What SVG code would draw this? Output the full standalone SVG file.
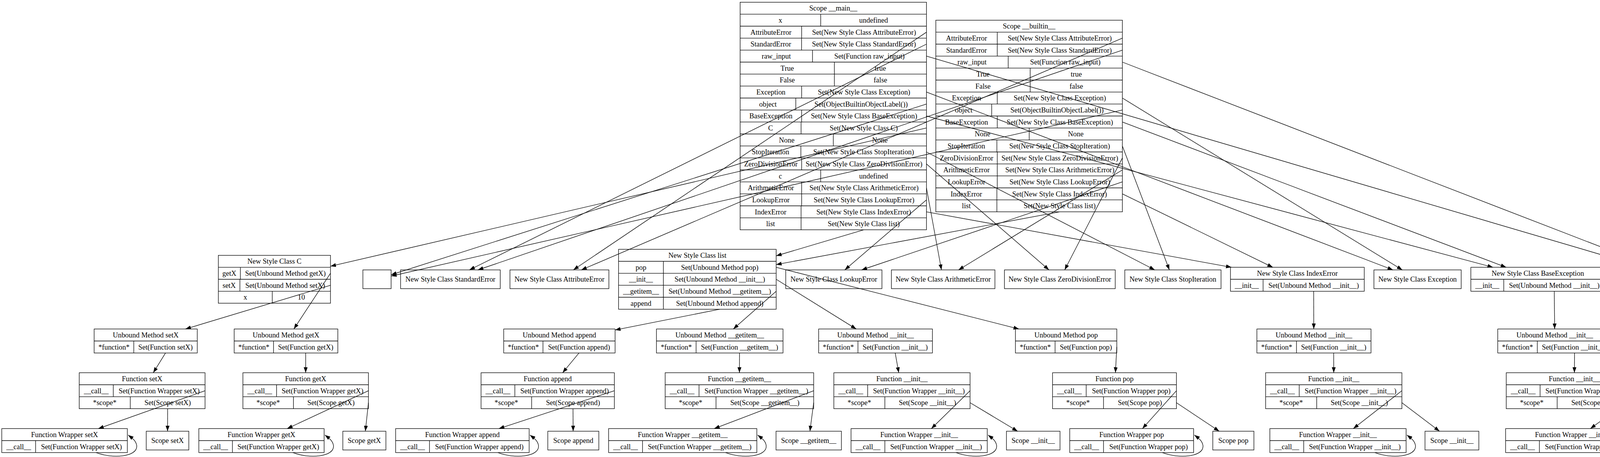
<svg xmlns="http://www.w3.org/2000/svg" width="4728" height="1170" viewBox="0 0 4728 1170">
<style>
.s{fill:none;stroke:#000;stroke-width:1.33}
text{font-family:"Liberation Serif","Times New Roman",serif;font-size:18.4px;text-anchor:middle;fill:#000}
.e line,.e path{fill:none;stroke:#000;stroke-width:1.33;marker-end:url(#a)}
</style>
<defs>
<marker id="a" markerUnits="userSpaceOnUse" markerWidth="14" markerHeight="10" viewBox="0 0 13.3 9.4" refX="13.3" refY="4.7" orient="auto"><path d="M0,0L13.3,4.7L0,9.4z" fill="#000"/></marker>
</defs>
<rect width="4728" height="1170" fill="#fff"/>

<g id="scope_main">
<rect class="s" x="1894.7" y="5.67" width="477" height="582.67"/>
<path class="s" d="M1894.7,36.33H2371.7M1894.7,67H2371.7M1894.7,97.67H2371.7M1894.7,128.33H2371.7M1894.7,159H2371.7M1894.7,189.67H2371.7M1894.7,220.33H2371.7M1894.7,251H2371.7M1894.7,281.67H2371.7M1894.7,312.33H2371.7M1894.7,343H2371.7M1894.7,373.67H2371.7M1894.7,404.33H2371.7M1894.7,435H2371.7M1894.7,465.67H2371.7M1894.7,496.33H2371.7M1894.7,527H2371.7M1894.7,557.67H2371.7
M2101,36.33V67M2052.3,67V97.67M2052,97.67V128.33M2080,128.33V159M2136,159V189.67M2136,189.67V220.33M2052.3,220.33V251M2037.3,251V281.67M2052.3,281.67V312.33M2050.7,312.33V343M2133.3,343V373.67M2050.3,373.67V404.33M2052.3,404.33V435M2101,435V465.67M2052.3,465.67V496.33M2052.3,496.33V527M2050.7,527V557.67M2050.7,557.67V588.33"/>
<text x="2133.2" y="27.3">Scope __main__</text>
<text x="1997.85" y="58">x</text><text x="2236.35" y="58">undefined</text>
<text x="1973.5" y="88.7">AttributeError</text><text x="2212" y="88.7">Set(New Style Class AttributeError)</text>
<text x="1973.35" y="119.3">StandardError</text><text x="2211.85" y="119.3">Set(New Style Class StandardError)</text>
<text x="1987.35" y="150">raw_input</text><text x="2225.85" y="150">Set(Function raw_input)</text>
<text x="2015.35" y="180.7">True</text><text x="2253.85" y="180.7">true</text>
<text x="2015.35" y="211.3">False</text><text x="2253.85" y="211.3">false</text>
<text x="1973.5" y="242">Exception</text><text x="2212" y="242">Set(New Style Class Exception)</text>
<text x="1966" y="272.7">object</text><text x="2204.5" y="272.7">Set(ObjectBuiltinObjectLabel())</text>
<text x="1973.5" y="303.3">BaseException</text><text x="2212" y="303.3">Set(New Style Class BaseException)</text>
<text x="1972.7" y="334">C</text><text x="2211.2" y="334">Set(New Style Class C)</text>
<text x="2014" y="364.7">None</text><text x="2252.5" y="364.7">None</text>
<text x="1972.5" y="395.3">StopIteration</text><text x="2211" y="395.3">Set(New Style Class StopIteration)</text>
<text x="1973.5" y="426">ZeroDivisionError</text><text x="2212" y="426">Set(New Style Class ZeroDivisionError)</text>
<text x="1997.85" y="456.7">c</text><text x="2236.35" y="456.7">undefined</text>
<text x="1973.5" y="487.3">ArithmeticError</text><text x="2212" y="487.3">Set(New Style Class ArithmeticError)</text>
<text x="1973.5" y="518">LookupError</text><text x="2212" y="518">Set(New Style Class LookupError)</text>
<text x="1972.7" y="548.7">IndexError</text><text x="2211.2" y="548.7">Set(New Style Class IndexError)</text>
<text x="1972.7" y="579.3">list</text><text x="2211.2" y="579.3">Set(New Style Class list)</text>
</g>

<g id="scope_builtin">
<rect class="s" x="2395.7" y="51.67" width="477.6" height="490.67"/>
<path class="s" d="M2395.7,82.33H2873.3M2395.7,113H2873.3M2395.7,143.67H2873.3M2395.7,174.33H2873.3M2395.7,205H2873.3M2395.7,235.67H2873.3M2395.7,266.33H2873.3M2395.7,297H2873.3M2395.7,327.67H2873.3M2395.7,358.33H2873.3M2395.7,389H2873.3M2395.7,419.67H2873.3M2395.7,450.33H2873.3M2395.7,481H2873.3M2395.7,511.67H2873.3
M2553,82.33V113M2553,113V143.67M2581,143.67V174.33M2637.3,174.33V205M2637.3,205V235.67M2553,235.67V266.33M2538.7,266.33V297M2553,297V327.67M2634.7,327.67V358.33M2552,358.33V389M2553,389V419.67M2553,419.67V450.33M2553,450.33V481M2552,481V511.67M2552,511.67V542.33"/>
<text x="2634.5" y="73.3">Scope __builtin__</text>
<text x="2474.35" y="104">AttributeError</text><text x="2713.15" y="104">Set(New Style Class AttributeError)</text>
<text x="2474.35" y="134.6">StandardError</text><text x="2713.15" y="134.6">Set(New Style Class StandardError)</text>
<text x="2488.35" y="165.3">raw_input</text><text x="2727.15" y="165.3">Set(Function raw_input)</text>
<text x="2516.5" y="196">True</text><text x="2755.3" y="196">true</text>
<text x="2516.5" y="226.6">False</text><text x="2755.3" y="226.6">false</text>
<text x="2474.35" y="257.3">Exception</text><text x="2713.15" y="257.3">Set(New Style Class Exception)</text>
<text x="2467.2" y="288">object</text><text x="2706" y="288">Set(ObjectBuiltinObjectLabel())</text>
<text x="2474.35" y="318.6">BaseException</text><text x="2713.15" y="318.6">Set(New Style Class BaseException)</text>
<text x="2515.2" y="349.3">None</text><text x="2754" y="349.3">None</text>
<text x="2473.85" y="380">StopIteration</text><text x="2712.65" y="380">Set(New Style Class StopIteration)</text>
<text x="2474.35" y="410.6">ZeroDivisionError</text><text x="2713.15" y="410.6">Set(New Style Class ZeroDivisionError)</text>
<text x="2474.35" y="441.3">ArithmeticError</text><text x="2713.15" y="441.3">Set(New Style Class ArithmeticError)</text>
<text x="2474.35" y="472">LookupError</text><text x="2713.15" y="472">Set(New Style Class LookupError)</text>
<text x="2473.85" y="502.6">IndexError</text><text x="2712.65" y="502.6">Set(New Style Class IndexError)</text>
<text x="2473.85" y="533.3">list</text><text x="2712.65" y="533.3">Set(New Style Class list)</text>
</g>

<g id="nsc_C">
<rect class="s" x="559" y="653.67" width="287" height="122.67"/>
<path class="s" d="M559,684.33H846M559,715H846M559,745.67H846M615.4,684.33V715M614.2,715V745.67M697,745.67V776.33"/>
<text x="702.5" y="675.3">New Style Class C</text>
<text x="587.2" y="706">getX</text><text x="730.7" y="706">Set(Unbound Method getX)</text>
<text x="586.6" y="736.6">setX</text><text x="730.1" y="736.6">Set(Unbound Method setX)</text>
<text x="628" y="767.3">x</text><text x="771.5" y="767.3">10</text>
</g>
<g id="object_label"><rect class="s" x="929" y="691" width="72.3" height="48"/></g>
<g id="nsc_StandardError"><rect class="s" x="1025.5" y="691" width="255.1" height="48"/><text x="1153.05" y="721.3">New Style Class StandardError</text></g>
<g id="nsc_AttributeError"><rect class="s" x="1305.5" y="691" width="253.2" height="48"/><text x="1432.1" y="721.3">New Style Class AttributeError</text></g>
<g id="nsc_list">
<rect class="s" x="1583.5" y="638.33" width="403.5" height="153.33"/>
<path class="s" d="M1583.5,669H1987M1583.5,699.67H1987M1583.5,730.33H1987M1583.5,761H1987M1698.3,669V791.67"/>
<text x="1785.25" y="660">New Style Class list</text>
<text x="1640.9" y="690.6">pop</text><text x="1842.65" y="690.6">Set(Unbound Method pop)</text>
<text x="1640.9" y="721.3">__init__</text><text x="1842.65" y="721.3">Set(Unbound Method __init__)</text>
<text x="1640.9" y="752">__getitem__</text><text x="1842.65" y="752">Set(Unbound Method __getitem__)</text>
<text x="1640.9" y="782.6">append</text><text x="1842.65" y="782.6">Set(Unbound Method append)</text>
</g>
<g id="nsc_LookupError"><rect class="s" x="2011.5" y="691" width="246.2" height="48"/><text x="2134.6" y="721.3">New Style Class LookupError</text></g>
<g id="nsc_ArithmeticError"><rect class="s" x="2282" y="691" width="265" height="48"/><text x="2414.5" y="721.3">New Style Class ArithmeticError</text></g>
<g id="nsc_ZeroDivisionError"><rect class="s" x="2571.4" y="691" width="283.6" height="48"/><text x="2713.2" y="721.3">New Style Class ZeroDivisionError</text></g>
<g id="nsc_StopIteration"><rect class="s" x="2879.5" y="691" width="246.3" height="48"/><text x="3002.65" y="721.3">New Style Class StopIteration</text></g>
<g id="nsc_IndexError">
<rect class="s" x="3150" y="684.33" width="342.5" height="61.33"/>
<path class="s" d="M3150,715H3492.5M3233.5,715V745.67"/>
<text x="3321.25" y="706">New Style Class IndexError</text>
<text x="3191.75" y="736.6">__init__</text><text x="3363" y="736.6">Set(Unbound Method __init__)</text>
</g>
<g id="nsc_Exception"><rect class="s" x="3517.3" y="691" width="223.3" height="48"/><text x="3628.95" y="721.3">New Style Class Exception</text></g>
<g id="nsc_BaseException">
<rect class="s" x="3765.4" y="684.33" width="342.9" height="61.33"/>
<path class="s" d="M3765.4,715H4108.3M3849.6,715V745.67"/>
<text x="3936.85" y="706">New Style Class BaseException</text>
<text x="3807.5" y="736.6">__init__</text><text x="3978.95" y="736.6">Set(Unbound Method __init__)</text>
</g>
<g id="func_raw_input">
<rect class="s" x="4132.5" y="669" width="361" height="92"/>
<path class="s" d="M4132.5,699.67H4493.5M4132.5,730.33H4493.5M4219,699.67V730.33M4262.7,730.33V761"/>
<text x="4313" y="690.6">Function raw_input</text>
<text x="4175.75" y="721.3">__call__</text><text x="4356.25" y="721.3">Set(Function Wrapper raw_input)</text>
<text x="4197.6" y="752">*scope*</text><text x="4378.1" y="752">Set(Scope raw_input)</text>
</g>

<g id="um_setX"><rect class="s" x="241" y="842.33" width="264" height="61.33"/><path class="s" d="M241,873H505M342.5,873V903.67"/><text x="373" y="864">Unbound Method setX</text><text x="291.75" y="894.6">*function*</text><text x="423.75" y="894.6">Set(Function setX)</text></g>
<g id="um_getX"><rect class="s" x="599.5" y="842.33" width="265.3" height="61.33"/><path class="s" d="M599.5,873H864.8M700.3,873V903.67"/><text x="732.15" y="864">Unbound Method getX</text><text x="649.9" y="894.6">*function*</text><text x="782.55" y="894.6">Set(Function getX)</text></g>
<g id="um_append"><rect class="s" x="1289.5" y="842.33" width="285.1" height="61.33"/><path class="s" d="M1289.5,873H1574.6M1390,873V903.67"/><text x="1432.05" y="864">Unbound Method append</text><text x="1339.75" y="894.6">*function*</text><text x="1482.3" y="894.6">Set(Function append)</text></g>
<g id="um_getitem"><rect class="s" x="1680.5" y="842.33" width="324" height="61.33"/><path class="s" d="M1680.5,873H2004.5M1782,873V903.67"/><text x="1842.5" y="864">Unbound Method __getitem__</text><text x="1731.25" y="894.6">*function*</text><text x="1893.25" y="894.6">Set(Function __getitem__)</text></g>
<g id="um_init_list"><rect class="s" x="2095.7" y="842.33" width="291.3" height="61.33"/><path class="s" d="M2095.7,873H2387M2196.4,873V903.67"/><text x="2241.35" y="864">Unbound Method __init__</text><text x="2146.05" y="894.6">*function*</text><text x="2291.7" y="894.6">Set(Function __init__)</text></g>
<g id="um_pop"><rect class="s" x="2599.5" y="842.33" width="259.5" height="61.33"/><path class="s" d="M2599.5,873H2859M2701,873V903.67"/><text x="2729.25" y="864">Unbound Method pop</text><text x="2650.25" y="894.6">*function*</text><text x="2780" y="894.6">Set(Function pop)</text></g>
<g id="um_init_index"><rect class="s" x="3217.6" y="842.33" width="292.1" height="61.33"/><path class="s" d="M3217.6,873H3509.7M3319,873V903.67"/><text x="3363.65" y="864">Unbound Method __init__</text><text x="3268.3" y="894.6">*function*</text><text x="3414.35" y="894.6">Set(Function __init__)</text></g>
<g id="um_init_base"><rect class="s" x="3834.3" y="842.33" width="291.7" height="61.33"/><path class="s" d="M3834.3,873H4126M3935.5,873V903.67"/><text x="3980.15" y="864">Unbound Method __init__</text><text x="3884.9" y="894.6">*function*</text><text x="4030.75" y="894.6">Set(Function __init__)</text></g>
<g id="fw_raw_input"><rect class="s" x="4163.3" y="842.33" width="361" height="61.33"/><path class="s" d="M4163.3,873H4524.3M4249.7,873V903.67"/><text x="4343.8" y="864">Function Wrapper raw_input</text><text x="4206.5" y="894.6">__call__</text><text x="4387" y="894.6">Set(Function Wrapper raw_input)</text></g>
<g id="scope_raw_input"><rect class="s" x="4572.8" y="849" width="149.1" height="48"/><text x="4647.35" y="879.3">Scope raw_input</text></g>

<g id="f_setX"><rect class="s" x="202.8" y="954.33" width="322.1" height="92"/><path class="s" d="M202.8,985H524.9M202.8,1015.67H524.9M290,985V1015.67M333.5,1015.67V1046.33"/><text x="363.85" y="976">Function setX</text><text x="246.4" y="1006.6">__call__</text><text x="407.45" y="1006.6">Set(Function Wrapper setX)</text><text x="268.15" y="1037.3">*scope*</text><text x="429.2" y="1037.3">Set(Scope setX)</text></g>
<g id="f_getX"><rect class="s" x="621.8" y="954.33" width="321.4" height="92"/><path class="s" d="M621.8,985H943.2M621.8,1015.67H943.2M708,985V1015.67M751.3,1015.67V1046.33"/><text x="782.5" y="976">Function getX</text><text x="664.9" y="1006.6">__call__</text><text x="825.6" y="1006.6">Set(Function Wrapper getX)</text><text x="686.55" y="1037.3">*scope*</text><text x="847.25" y="1037.3">Set(Scope getX)</text></g>
<g id="f_append"><rect class="s" x="1231.5" y="954.33" width="341.2" height="92"/><path class="s" d="M1231.5,985H1572.7M1231.5,1015.67H1572.7M1318,985V1015.67M1361,1015.67V1046.33"/><text x="1402.1" y="976">Function append</text><text x="1274.75" y="1006.6">__call__</text><text x="1445.35" y="1006.6">Set(Function Wrapper append)</text><text x="1296.25" y="1037.3">*scope*</text><text x="1466.85" y="1037.3">Set(Scope append)</text></g>
<g id="f_getitem"><rect class="s" x="1702.8" y="954.33" width="380.2" height="92"/><path class="s" d="M1702.8,985H2083M1702.8,1015.67H2083M1789.5,985V1015.67M1833,1015.67V1046.33"/><text x="1892.9" y="976">Function __getitem__</text><text x="1746.15" y="1006.6">__call__</text><text x="1936.25" y="1006.6">Set(Function Wrapper __getitem__)</text><text x="1767.9" y="1037.3">*scope*</text><text x="1958" y="1037.3">Set(Scope __getitem__)</text></g>
<g id="f_init_list"><rect class="s" x="2134.6" y="954.33" width="348.8" height="92"/><path class="s" d="M2134.6,985H2483.4M2134.6,1015.67H2483.4M2221.3,985V1015.67M2265.3,1015.67V1046.33"/><text x="2309" y="976">Function __init__</text><text x="2177.95" y="1006.6">__call__</text><text x="2352.35" y="1006.6">Set(Function Wrapper __init__)</text><text x="2199.95" y="1037.3">*scope*</text><text x="2374.35" y="1037.3">Set(Scope __init__)</text></g>
<g id="f_pop"><rect class="s" x="2694.5" y="954.33" width="317.1" height="92"/><path class="s" d="M2694.5,985H3011.6M2694.5,1015.67H3011.6M2780.6,985V1015.67M2825,1015.67V1046.33"/><text x="2853.05" y="976">Function pop</text><text x="2737.55" y="1006.6">__call__</text><text x="2896.1" y="1006.6">Set(Function Wrapper pop)</text><text x="2759.75" y="1037.3">*scope*</text><text x="2918.3" y="1037.3">Set(Scope pop)</text></g>
<g id="f_init_index"><rect class="s" x="3240" y="954.33" width="348.8" height="92"/><path class="s" d="M3240,985H3588.8M3240,1015.67H3588.8M3326,985V1015.67M3370.7,1015.67V1046.33"/><text x="3414.4" y="976">Function __init__</text><text x="3283" y="1006.6">__call__</text><text x="3457.4" y="1006.6">Set(Function Wrapper __init__)</text><text x="3305.35" y="1037.3">*scope*</text><text x="3479.75" y="1037.3">Set(Scope __init__)</text></g>
<g id="f_init_base"><rect class="s" x="3856" y="954.33" width="349" height="92"/><path class="s" d="M3856,985H4205M3856,1015.67H4205M3942.6,985V1015.67M3986.4,1015.67V1046.33"/><text x="4030.5" y="976">Function __init__</text><text x="3899.3" y="1006.6">__call__</text><text x="4073.8" y="1006.6">Set(Function Wrapper __init__)</text><text x="3921.2" y="1037.3">*scope*</text><text x="4095.7" y="1037.3">Set(Scope __init__)</text></g>

<g id="fw_setX"><rect class="s" x="4.5" y="1097.33" width="321.5" height="61.33"/><path class="s" d="M4.5,1128H326M91.2,1128V1158.67"/><text x="165.25" y="1119">Function Wrapper setX</text><text x="47.85" y="1149.6">__call__</text><text x="208.6" y="1149.6">Set(Function Wrapper setX)</text></g>
<g id="scope_setX"><rect class="s" x="374.4" y="1104" width="109" height="48"/><text x="428.9" y="1134.3">Scope setX</text></g>
<g id="fw_getX"><rect class="s" x="509" y="1097.33" width="320.7" height="61.33"/><path class="s" d="M509,1128H829.7M595,1128V1158.67"/><text x="669.35" y="1119">Function Wrapper getX</text><text x="552" y="1149.6">__call__</text><text x="712.35" y="1149.6">Set(Function Wrapper getX)</text></g>
<g id="scope_getX"><rect class="s" x="877.6" y="1104" width="110.3" height="48"/><text x="932.75" y="1134.3">Scope getX</text></g>
<g id="fw_append"><rect class="s" x="1012.8" y="1097.33" width="341.8" height="61.33"/><path class="s" d="M1012.8,1128H1354.6M1099.5,1128V1158.67"/><text x="1183.7" y="1119">Function Wrapper append</text><text x="1056.15" y="1149.6">__call__</text><text x="1227.05" y="1149.6">Set(Function Wrapper append)</text></g>
<g id="scope_append"><rect class="s" x="1402.4" y="1104" width="130.6" height="48"/><text x="1467.7" y="1134.3">Scope append</text></g>
<g id="fw_getitem"><rect class="s" x="1558" y="1097.33" width="379.5" height="61.33"/><path class="s" d="M1558,1128H1937.5M1644.8,1128V1158.67"/><text x="1747.75" y="1119">Function Wrapper __getitem__</text><text x="1601.4" y="1149.6">__call__</text><text x="1791.15" y="1149.6">Set(Function Wrapper __getitem__)</text></g>
<g id="scope_getitem"><rect class="s" x="1986.6" y="1104" width="167.4" height="48"/><text x="2070.3" y="1134.3">Scope __getitem__</text></g>
<g id="fw_init_list"><rect class="s" x="2178.6" y="1097.33" width="348.8" height="61.33"/><path class="s" d="M2178.6,1128H2527.4M2265.3,1128V1158.67"/><text x="2353" y="1119">Function Wrapper __init__</text><text x="2221.95" y="1149.6">__call__</text><text x="2396.35" y="1149.6">Set(Function Wrapper __init__)</text></g>
<g id="scope_init_list"><rect class="s" x="2576.5" y="1104" width="137.1" height="48"/><text x="2645.05" y="1134.3">Scope __init__</text></g>
<g id="fw_pop"><rect class="s" x="2738.5" y="1097.33" width="317.1" height="61.33"/><path class="s" d="M2738.5,1128H3055.6M2825,1128V1158.67"/><text x="2897.05" y="1119">Function Wrapper pop</text><text x="2781.75" y="1149.6">__call__</text><text x="2940.3" y="1149.6">Set(Function Wrapper pop)</text></g>
<g id="scope_pop"><rect class="s" x="3104.7" y="1104" width="105.3" height="48"/><text x="3157.35" y="1134.3">Scope pop</text></g>
<g id="fw_init_index"><rect class="s" x="3250.8" y="1097.33" width="348.8" height="61.33"/><path class="s" d="M3250.8,1128H3599.6M3337.5,1128V1158.67"/><text x="3425.2" y="1119">Function Wrapper __init__</text><text x="3294.15" y="1149.6">__call__</text><text x="3468.55" y="1149.6">Set(Function Wrapper __init__)</text></g>
<g id="scope_init_index"><rect class="s" x="3648" y="1104" width="137.8" height="48"/><text x="3716.9" y="1134.3">Scope __init__</text></g>
<g id="fw_init_base"><rect class="s" x="3854.4" y="1097.33" width="349.6" height="61.33"/><path class="s" d="M3854.4,1128H4204M3940.8,1128V1158.67"/><text x="4029.2" y="1119">Function Wrapper __init__</text><text x="3897.6" y="1149.6">__call__</text><text x="4072.4" y="1149.6">Set(Function Wrapper __init__)</text></g>
<g id="scope_init_base"><rect class="s" x="4252.7" y="1104" width="137.3" height="48"/><text x="4321.35" y="1134.3">Scope __init__</text></g>

<g id="edges" class="e">
<line x1="2371.7" y1="82.33" x2="1467.8" y2="691"/>
<line x1="2371.7" y1="113" x2="1201.7" y2="691"/>
<line x1="2371.7" y1="143.67" x2="4156.7" y2="669"/>
<line x1="2371.7" y1="235.67" x2="3566.1" y2="691"/>
<line x1="2371.7" y1="266.33" x2="1001.3" y2="703.5"/>
<line x1="2371.7" y1="297" x2="3822" y2="684.33"/>
<line x1="2371.7" y1="327.67" x2="846" y2="681.7"/>
<line x1="2371.7" y1="389" x2="2956.2" y2="691"/>
<line x1="2371.7" y1="419.67" x2="2685.4" y2="691"/>
<line x1="2371.7" y1="481" x2="2410.1" y2="691"/>
<line x1="2371.7" y1="511.67" x2="2162.6" y2="691"/>
<line x1="2371.7" y1="542.33" x2="3152.6" y2="684.33"/>
<line x1="2211.2" y1="588.33" x2="1987" y2="655"/>
<line x1="2873.3" y1="97.67" x2="1488.2" y2="691"/>
<line x1="2873.3" y1="128.33" x2="1223.4" y2="691"/>
<line x1="2873.3" y1="159" x2="4193.9" y2="669"/>
<line x1="2873.3" y1="251" x2="3589.9" y2="691"/>
<line x1="2873.3" y1="281.67" x2="1001.3" y2="706.8"/>
<line x1="2873.3" y1="312.33" x2="3855.8" y2="684.33"/>
<line x1="2873.3" y1="373.67" x2="2993.6" y2="691"/>
<line x1="2873.3" y1="404.33" x2="2725.6" y2="691"/>
<line x1="2873.3" y1="435" x2="2453.8" y2="691"/>
<line x1="2873.3" y1="465.67" x2="2205.7" y2="691"/>
<line x1="2873.3" y1="496.33" x2="3258.4" y2="684.33"/>
<line x1="2712.65" y1="542.33" x2="1987" y2="677.4"/>
<line x1="846" y1="699.67" x2="752.3" y2="842.33"/>
<line x1="846" y1="730.33" x2="474.7" y2="842.33"/>
<line x1="1987" y1="684.33" x2="2608.6" y2="842.33"/>
<line x1="1987" y1="715" x2="2192" y2="842.33"/>
<line x1="1987" y1="745.67" x2="1877.3" y2="842.33"/>
<line x1="1842.65" y1="791.67" x2="1574.6" y2="844.8"/>
<line x1="3363" y1="745.67" x2="3363.3" y2="842.33"/>
<line x1="3978.95" y1="745.67" x2="3979.9" y2="842.33"/>
<line x1="4493.5" y1="715" x2="4372.9" y2="842.33"/>
<line x1="4493.5" y1="745.67" x2="4618.4" y2="849"/>
<line x1="423.75" y1="903.67" x2="392.35" y2="954.33"/>
<line x1="782.55" y1="903.67" x2="782.5" y2="954.33"/>
<line x1="1482.3" y1="903.67" x2="1440.3" y2="954.33"/>
<line x1="1893.25" y1="903.67" x2="1892.9" y2="954.33"/>
<line x1="2291.7" y1="903.67" x2="2300.8" y2="954.33"/>
<line x1="2859" y1="888.33" x2="2855.5" y2="954.33"/>
<line x1="3414.35" y1="903.67" x2="3414.4" y2="954.33"/>
<line x1="4030.75" y1="903.67" x2="4030.5" y2="954.33"/>
<line x1="524.9" y1="1000.33" x2="251.6" y2="1097.33"/>
<line x1="429.2" y1="1046.33" x2="428.9" y2="1104"/>
<line x1="943.2" y1="1000.33" x2="735.1" y2="1097.33"/>
<line x1="943.2" y1="1031" x2="935.3" y2="1104"/>
<line x1="1572.7" y1="1000.33" x2="1277.1" y2="1097.33"/>
<line x1="1466.85" y1="1046.33" x2="1467.3" y2="1104"/>
<line x1="2083" y1="1000.33" x2="1828.3" y2="1097.33"/>
<line x1="2083" y1="1031" x2="2073.4" y2="1104"/>
<line x1="2483.4" y1="1000.33" x2="2384.3" y2="1097.33"/>
<line x1="2483.4" y1="1031" x2="2605.1" y2="1104"/>
<line x1="3011.6" y1="1000.33" x2="2924.6" y2="1097.33"/>
<line x1="3011.6" y1="1031" x2="3121.3" y2="1104"/>
<line x1="3588.8" y1="1000.33" x2="3464.5" y2="1097.33"/>
<line x1="3588.8" y1="1031" x2="3685.2" y2="1104"/>
<line x1="4205" y1="1000.33" x2="4071.4" y2="1097.33"/>
<line x1="4205" y1="1031" x2="4292.6" y2="1104"/>
<path d="M246,1158.67C286,1174.67 353,1170.67 350,1140.67C348,1128.67 340,1122.67 328,1113.67"/>
<path d="M749.7,1158.67C789.7,1174.67 856.7,1170.67 853.7,1140.67C851.7,1128.67 843.7,1122.67 831.7,1113.67"/>
<path d="M1274.6,1158.67C1314.6,1174.67 1381.6,1170.67 1378.6,1140.67C1376.6,1128.67 1368.6,1122.67 1356.6,1113.67"/>
<path d="M1857.5,1158.67C1897.5,1174.67 1964.5,1170.67 1961.5,1140.67C1959.5,1128.67 1951.5,1122.67 1939.5,1113.67"/>
<path d="M2447.4,1158.67C2487.4,1174.67 2554.4,1170.67 2551.4,1140.67C2549.4,1128.67 2541.4,1122.67 2529.4,1113.67"/>
<path d="M2975.6,1158.67C3015.6,1174.67 3082.6,1170.67 3079.6,1140.67C3077.6,1128.67 3069.6,1122.67 3057.6,1113.67"/>
<path d="M3519.6,1158.67C3559.6,1174.67 3626.6,1170.67 3623.6,1140.67C3621.6,1128.67 3613.6,1122.67 3601.6,1113.67"/>
<path d="M4124,1158.67C4164,1174.67 4231,1170.67 4228,1140.67C4226,1128.67 4218,1122.67 4206,1113.67"/>
<path d="M4444.3,903.67C4484.3,919.67 4551.3,915.67 4548.3,885.67C4546.3,873.67 4538.3,867.67 4526.3,858.67"/>
</g>
</svg>
